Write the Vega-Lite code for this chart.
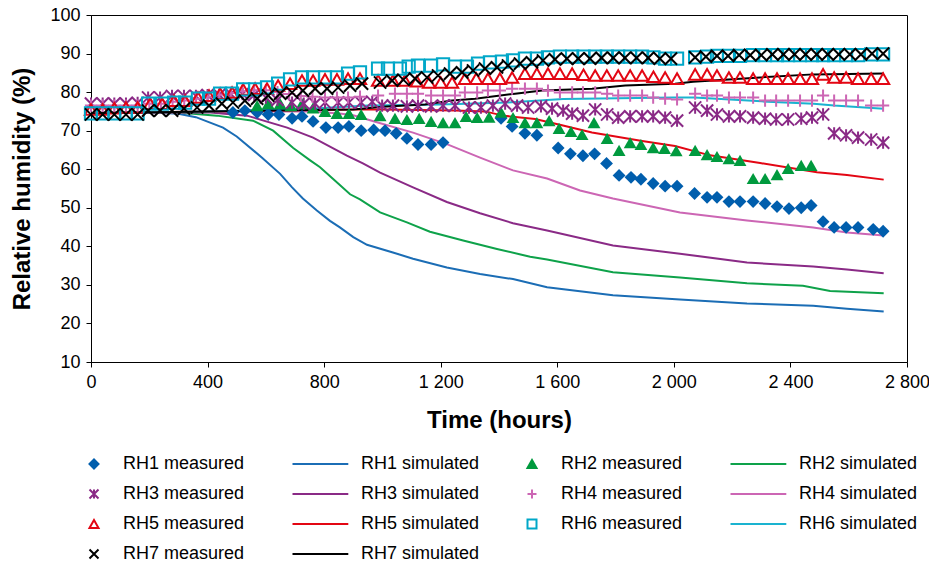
{
  "$schema": "https://vega.github.io/schema/vega-lite/v6.json",
  "width": 816,
  "height": 347,
  "autosize": {"type": "none"},
  "padding": {"left": 91, "top": 15, "right": 22, "bottom": 208},
  "background": "white",
  "config": {
    "font": "Liberation Sans",
    "view": {"stroke": "#000", "strokeWidth": 1},
    "axis": {"grid": false, "domainColor": "#000", "tickColor": "#000", "labelColor": "#000", "titleColor": "#000", "labelFont": "Liberation Sans", "titleFont": "Liberation Sans", "labelFontSize": 18, "titleFontSize": 24, "titleFontWeight": "bold", "tickSize": 5, "labelOverlap": false, "labelFlush": false}
  },
  "datasets": {
    "sim": [
      {"s":"RH1 simulated","h":0,"v":74.6},{"s":"RH1 simulated","h":200,"v":74.8},{"s":"RH1 simulated","h":300,"v":74.4},{"s":"RH1 simulated","h":360,"v":73.5},{"s":"RH1 simulated","h":453,"v":70.8},{"s":"RH1 simulated","h":500,"v":68.5},{"s":"RH1 simulated","h":587,"v":63.0},{"s":"RH1 simulated","h":649,"v":58.8},{"s":"RH1 simulated","h":690,"v":55.3},{"s":"RH1 simulated","h":727,"v":52.4},{"s":"RH1 simulated","h":775,"v":49.3},{"s":"RH1 simulated","h":820,"v":46.6},{"s":"RH1 simulated","h":854,"v":44.9},{"s":"RH1 simulated","h":900,"v":42.4},{"s":"RH1 simulated","h":947,"v":40.4},{"s":"RH1 simulated","h":1036,"v":38.4},{"s":"RH1 simulated","h":1105,"v":36.8},{"s":"RH1 simulated","h":1221,"v":34.5},{"s":"RH1 simulated","h":1335,"v":32.8},{"s":"RH1 simulated","h":1448,"v":31.5},{"s":"RH1 simulated","h":1565,"v":29.4},{"s":"RH1 simulated","h":1791,"v":27.3},{"s":"RH1 simulated","h":2021,"v":26.2},{"s":"RH1 simulated","h":2251,"v":25.2},{"s":"RH1 simulated","h":2478,"v":24.6},{"s":"RH1 simulated","h":2594,"v":23.8},{"s":"RH1 simulated","h":2720,"v":23.1},
      {"s":"RH2 simulated","h":0,"v":74.6},{"s":"RH2 simulated","h":300,"v":74.7},{"s":"RH2 simulated","h":432,"v":73.9},{"s":"RH2 simulated","h":556,"v":72.6},{"s":"RH2 simulated","h":625,"v":70.0},{"s":"RH2 simulated","h":694,"v":65.5},{"s":"RH2 simulated","h":752,"v":62.3},{"s":"RH2 simulated","h":786,"v":60.5},{"s":"RH2 simulated","h":830,"v":57.5},{"s":"RH2 simulated","h":889,"v":53.5},{"s":"RH2 simulated","h":923,"v":52.2},{"s":"RH2 simulated","h":992,"v":48.8},{"s":"RH2 simulated","h":1084,"v":46.2},{"s":"RH2 simulated","h":1163,"v":43.8},{"s":"RH2 simulated","h":1277,"v":41.5},{"s":"RH2 simulated","h":1393,"v":39.3},{"s":"RH2 simulated","h":1507,"v":37.3},{"s":"RH2 simulated","h":1565,"v":36.6},{"s":"RH2 simulated","h":1791,"v":33.3},{"s":"RH2 simulated","h":2021,"v":31.9},{"s":"RH2 simulated","h":2251,"v":30.4},{"s":"RH2 simulated","h":2443,"v":29.8},{"s":"RH2 simulated","h":2536,"v":28.4},{"s":"RH2 simulated","h":2720,"v":27.8},
      {"s":"RH3 simulated","h":0,"v":74.6},{"s":"RH3 simulated","h":400,"v":74.8},{"s":"RH3 simulated","h":535,"v":73.9},{"s":"RH3 simulated","h":673,"v":70.8},{"s":"RH3 simulated","h":762,"v":68.2},{"s":"RH3 simulated","h":878,"v":63.5},{"s":"RH3 simulated","h":933,"v":61.5},{"s":"RH3 simulated","h":992,"v":59.1},{"s":"RH3 simulated","h":1105,"v":55.3},{"s":"RH3 simulated","h":1221,"v":51.5},{"s":"RH3 simulated","h":1335,"v":48.6},{"s":"RH3 simulated","h":1448,"v":46.0},{"s":"RH3 simulated","h":1565,"v":44.1},{"s":"RH3 simulated","h":1791,"v":40.2},{"s":"RH3 simulated","h":2021,"v":38.1},{"s":"RH3 simulated","h":2251,"v":35.8},{"s":"RH3 simulated","h":2478,"v":34.8},{"s":"RH3 simulated","h":2594,"v":34.0},{"s":"RH3 simulated","h":2720,"v":33.0},
      {"s":"RH4 simulated","h":0,"v":74.6},{"s":"RH4 simulated","h":600,"v":75.0},{"s":"RH4 simulated","h":762,"v":75.0},{"s":"RH4 simulated","h":860,"v":74.4},{"s":"RH4 simulated","h":900,"v":74.0},{"s":"RH4 simulated","h":975,"v":72.3},{"s":"RH4 simulated","h":1105,"v":69.5},{"s":"RH4 simulated","h":1221,"v":66.5},{"s":"RH4 simulated","h":1335,"v":63.0},{"s":"RH4 simulated","h":1448,"v":59.7},{"s":"RH4 simulated","h":1565,"v":57.6},{"s":"RH4 simulated","h":1678,"v":54.5},{"s":"RH4 simulated","h":1791,"v":52.4},{"s":"RH4 simulated","h":2021,"v":48.8},{"s":"RH4 simulated","h":2251,"v":46.7},{"s":"RH4 simulated","h":2478,"v":44.9},{"s":"RH4 simulated","h":2594,"v":43.6},{"s":"RH4 simulated","h":2720,"v":42.8},
      {"s":"RH5 simulated","h":0,"v":74.6},{"s":"RH5 simulated","h":400,"v":75.0},{"s":"RH5 simulated","h":900,"v":75.5},{"s":"RH5 simulated","h":1000,"v":75.5},{"s":"RH5 simulated","h":1250,"v":75.2},{"s":"RH5 simulated","h":1352,"v":75.0},{"s":"RH5 simulated","h":1414,"v":73.9},{"s":"RH5 simulated","h":1524,"v":73.0},{"s":"RH5 simulated","h":1616,"v":71.4},{"s":"RH5 simulated","h":1719,"v":69.5},{"s":"RH5 simulated","h":1891,"v":67.3},{"s":"RH5 simulated","h":2004,"v":66.0},{"s":"RH5 simulated","h":2124,"v":63.6},{"s":"RH5 simulated","h":2296,"v":61.6},{"s":"RH5 simulated","h":2491,"v":59.2},{"s":"RH5 simulated","h":2594,"v":58.5},{"s":"RH5 simulated","h":2720,"v":57.3},
      {"s":"RH6 simulated","h":0,"v":74.5},{"s":"RH6 simulated","h":400,"v":75.0},{"s":"RH6 simulated","h":700,"v":75.5},{"s":"RH6 simulated","h":950,"v":76.5},{"s":"RH6 simulated","h":1200,"v":76.8},{"s":"RH6 simulated","h":1430,"v":77.3},{"s":"RH6 simulated","h":1620,"v":78.2},{"s":"RH6 simulated","h":2000,"v":78.6},{"s":"RH6 simulated","h":2070,"v":78.6},{"s":"RH6 simulated","h":2300,"v":77.6},{"s":"RH6 simulated","h":2480,"v":77.0},{"s":"RH6 simulated","h":2550,"v":76.5},{"s":"RH6 simulated","h":2720,"v":75.7},
      {"s":"RH7 simulated","h":0,"v":74.5},{"s":"RH7 simulated","h":400,"v":75.0},{"s":"RH7 simulated","h":900,"v":75.5},{"s":"RH7 simulated","h":1000,"v":76.2},{"s":"RH7 simulated","h":1146,"v":76.8},{"s":"RH7 simulated","h":1239,"v":77.8},{"s":"RH7 simulated","h":1318,"v":78.3},{"s":"RH7 simulated","h":1455,"v":79.6},{"s":"RH7 simulated","h":1548,"v":80.4},{"s":"RH7 simulated","h":1719,"v":80.9},{"s":"RH7 simulated","h":1833,"v":81.7},{"s":"RH7 simulated","h":2004,"v":82.2},{"s":"RH7 simulated","h":2066,"v":82.7},{"s":"RH7 simulated","h":2296,"v":83.8},{"s":"RH7 simulated","h":2478,"v":84.6},{"s":"RH7 simulated","h":2720,"v":84.8}
    ],
    "mf": [
      {"s":"RH1 measured","h":487,"v":74.7},{"s":"RH1 measured","h":528,"v":75.2},{"s":"RH1 measured","h":570,"v":74.7},{"s":"RH1 measured","h":608,"v":74.2},{"s":"RH1 measured","h":645,"v":74.2},{"s":"RH1 measured","h":690,"v":73.2},{"s":"RH1 measured","h":724,"v":73.7},{"s":"RH1 measured","h":762,"v":72.4},{"s":"RH1 measured","h":806,"v":70.8},{"s":"RH1 measured","h":848,"v":70.8},{"s":"RH1 measured","h":885,"v":71.1},{"s":"RH1 measured","h":927,"v":70.0},{"s":"RH1 measured","h":970,"v":70.2},{"s":"RH1 measured","h":1009,"v":70.0},{"s":"RH1 measured","h":1047,"v":69.3},{"s":"RH1 measured","h":1084,"v":68.0},{"s":"RH1 measured","h":1122,"v":66.4},{"s":"RH1 measured","h":1167,"v":66.4},{"s":"RH1 measured","h":1208,"v":66.9},{"s":"RH1 measured","h":1407,"v":73.2},{"s":"RH1 measured","h":1445,"v":71.1},{"s":"RH1 measured","h":1489,"v":69.3},{"s":"RH1 measured","h":1530,"v":68.8},{"s":"RH1 measured","h":1603,"v":65.5},{"s":"RH1 measured","h":1645,"v":64.0},{"s":"RH1 measured","h":1688,"v":63.5},{"s":"RH1 measured","h":1728,"v":64.0},{"s":"RH1 measured","h":1769,"v":61.5},{"s":"RH1 measured","h":1812,"v":58.4},{"s":"RH1 measured","h":1853,"v":57.9},{"s":"RH1 measured","h":1887,"v":57.4},{"s":"RH1 measured","h":1929,"v":56.3},{"s":"RH1 measured","h":1970,"v":55.6},{"s":"RH1 measured","h":2011,"v":55.6},{"s":"RH1 measured","h":2071,"v":53.7},{"s":"RH1 measured","h":2114,"v":52.7},{"s":"RH1 measured","h":2148,"v":52.7},{"s":"RH1 measured","h":2189,"v":51.6},{"s":"RH1 measured","h":2227,"v":51.6},{"s":"RH1 measured","h":2272,"v":51.6},{"s":"RH1 measured","h":2313,"v":51.1},{"s":"RH1 measured","h":2354,"v":50.3},{"s":"RH1 measured","h":2395,"v":49.8},{"s":"RH1 measured","h":2437,"v":50.0},{"s":"RH1 measured","h":2471,"v":50.6},{"s":"RH1 measured","h":2512,"v":46.4},{"s":"RH1 measured","h":2550,"v":44.9},{"s":"RH1 measured","h":2591,"v":44.9},{"s":"RH1 measured","h":2632,"v":44.9},{"s":"RH1 measured","h":2684,"v":44.4},{"s":"RH1 measured","h":2718,"v":43.9},
      {"s":"RH2 measured","h":570,"v":76.5},{"s":"RH2 measured","h":608,"v":77.0},{"s":"RH2 measured","h":649,"v":77.0},{"s":"RH2 measured","h":686,"v":76.5},{"s":"RH2 measured","h":724,"v":77.0},{"s":"RH2 measured","h":762,"v":75.9},{"s":"RH2 measured","h":803,"v":75.0},{"s":"RH2 measured","h":844,"v":74.5},{"s":"RH2 measured","h":885,"v":74.5},{"s":"RH2 measured","h":927,"v":74.2},{"s":"RH2 measured","h":992,"v":73.9},{"s":"RH2 measured","h":1043,"v":73.2},{"s":"RH2 measured","h":1084,"v":72.9},{"s":"RH2 measured","h":1126,"v":73.2},{"s":"RH2 measured","h":1167,"v":72.4},{"s":"RH2 measured","h":1208,"v":72.1},{"s":"RH2 measured","h":1249,"v":72.1},{"s":"RH2 measured","h":1287,"v":73.7},{"s":"RH2 measured","h":1325,"v":73.4},{"s":"RH2 measured","h":1366,"v":73.5},{"s":"RH2 measured","h":1407,"v":74.8},{"s":"RH2 measured","h":1448,"v":73.4},{"s":"RH2 measured","h":1489,"v":72.1},{"s":"RH2 measured","h":1530,"v":72.1},{"s":"RH2 measured","h":1572,"v":72.6},{"s":"RH2 measured","h":1606,"v":70.6},{"s":"RH2 measured","h":1647,"v":69.8},{"s":"RH2 measured","h":1685,"v":69.0},{"s":"RH2 measured","h":1726,"v":72.1},{"s":"RH2 measured","h":1771,"v":68.0},{"s":"RH2 measured","h":1812,"v":64.9},{"s":"RH2 measured","h":1850,"v":66.9},{"s":"RH2 measured","h":1887,"v":66.4},{"s":"RH2 measured","h":1929,"v":65.6},{"s":"RH2 measured","h":1968,"v":65.4},{"s":"RH2 measured","h":2008,"v":64.8},{"s":"RH2 measured","h":2073,"v":64.9},{"s":"RH2 measured","h":2114,"v":63.8},{"s":"RH2 measured","h":2148,"v":63.3},{"s":"RH2 measured","h":2189,"v":62.7},{"s":"RH2 measured","h":2227,"v":62.3},{"s":"RH2 measured","h":2272,"v":57.6},{"s":"RH2 measured","h":2313,"v":57.6},{"s":"RH2 measured","h":2354,"v":58.6},{"s":"RH2 measured","h":2392,"v":60.2},{"s":"RH2 measured","h":2437,"v":61.0},{"s":"RH2 measured","h":2471,"v":61.0}
    ],
    "mu": [
      {"s":"RH3 measured","h":0,"v":77.0},{"s":"RH3 measured","h":40,"v":77.0},{"s":"RH3 measured","h":80,"v":77.0},{"s":"RH3 measured","h":120,"v":77.0},{"s":"RH3 measured","h":160,"v":77.2},{"s":"RH3 measured","h":196,"v":78.6},{"s":"RH3 measured","h":237,"v":78.6},{"s":"RH3 measured","h":278,"v":79.0},{"s":"RH3 measured","h":319,"v":79.0},{"s":"RH3 measured","h":360,"v":79.0},{"s":"RH3 measured","h":400,"v":79.2},{"s":"RH3 measured","h":440,"v":79.3},{"s":"RH3 measured","h":480,"v":79.5},{"s":"RH3 measured","h":520,"v":79.5},{"s":"RH3 measured","h":560,"v":79.3},{"s":"RH3 measured","h":600,"v":78.6},{"s":"RH3 measured","h":640,"v":78.0},{"s":"RH3 measured","h":690,"v":77.3},{"s":"RH3 measured","h":730,"v":77.0},{"s":"RH3 measured","h":769,"v":77.0},{"s":"RH3 measured","h":803,"v":77.3},{"s":"RH3 measured","h":848,"v":77.3},{"s":"RH3 measured","h":885,"v":77.3},{"s":"RH3 measured","h":927,"v":77.3},{"s":"RH3 measured","h":965,"v":77.5},{"s":"RH3 measured","h":999,"v":76.5},{"s":"RH3 measured","h":1036,"v":76.5},{"s":"RH3 measured","h":1084,"v":76.3},{"s":"RH3 measured","h":1122,"v":76.5},{"s":"RH3 measured","h":1167,"v":76.3},{"s":"RH3 measured","h":1208,"v":76.5},{"s":"RH3 measured","h":1249,"v":76.5},{"s":"RH3 measured","h":1297,"v":76.0},{"s":"RH3 measured","h":1338,"v":76.0},{"s":"RH3 measured","h":1379,"v":76.5},{"s":"RH3 measured","h":1421,"v":77.0},{"s":"RH3 measured","h":1462,"v":76.5},{"s":"RH3 measured","h":1500,"v":76.0},{"s":"RH3 measured","h":1544,"v":76.3},{"s":"RH3 measured","h":1582,"v":75.7},{"s":"RH3 measured","h":1620,"v":75.2},{"s":"RH3 measured","h":1651,"v":74.4},{"s":"RH3 measured","h":1688,"v":73.9},{"s":"RH3 measured","h":1730,"v":75.5},{"s":"RH3 measured","h":1771,"v":74.2},{"s":"RH3 measured","h":1809,"v":73.4},{"s":"RH3 measured","h":1850,"v":73.7},{"s":"RH3 measured","h":1891,"v":73.7},{"s":"RH3 measured","h":1929,"v":73.7},{"s":"RH3 measured","h":1970,"v":73.4},{"s":"RH3 measured","h":2011,"v":72.6},{"s":"RH3 measured","h":2073,"v":76.0},{"s":"RH3 measured","h":2114,"v":75.2},{"s":"RH3 measured","h":2148,"v":74.2},{"s":"RH3 measured","h":2189,"v":73.7},{"s":"RH3 measured","h":2227,"v":73.7},{"s":"RH3 measured","h":2272,"v":73.4},{"s":"RH3 measured","h":2313,"v":73.1},{"s":"RH3 measured","h":2351,"v":72.9},{"s":"RH3 measured","h":2392,"v":72.9},{"s":"RH3 measured","h":2437,"v":73.1},{"s":"RH3 measured","h":2474,"v":73.4},{"s":"RH3 measured","h":2512,"v":74.2},{"s":"RH3 measured","h":2550,"v":69.3},{"s":"RH3 measured","h":2591,"v":68.8},{"s":"RH3 measured","h":2632,"v":68.2},{"s":"RH3 measured","h":2677,"v":67.7},{"s":"RH3 measured","h":2718,"v":66.9},
      {"s":"RH4 measured","h":0,"v":76.5},{"s":"RH4 measured","h":40,"v":76.5},{"s":"RH4 measured","h":80,"v":76.5},{"s":"RH4 measured","h":120,"v":76.5},{"s":"RH4 measured","h":160,"v":76.5},{"s":"RH4 measured","h":200,"v":77.0},{"s":"RH4 measured","h":240,"v":77.0},{"s":"RH4 measured","h":280,"v":77.5},{"s":"RH4 measured","h":320,"v":77.8},{"s":"RH4 measured","h":360,"v":78.3},{"s":"RH4 measured","h":400,"v":78.8},{"s":"RH4 measured","h":440,"v":79.3},{"s":"RH4 measured","h":480,"v":79.8},{"s":"RH4 measured","h":520,"v":80.2},{"s":"RH4 measured","h":560,"v":80.5},{"s":"RH4 measured","h":600,"v":80.5},{"s":"RH4 measured","h":640,"v":80.0},{"s":"RH4 measured","h":680,"v":79.5},{"s":"RH4 measured","h":720,"v":79.0},{"s":"RH4 measured","h":760,"v":78.8},{"s":"RH4 measured","h":803,"v":78.6},{"s":"RH4 measured","h":844,"v":78.6},{"s":"RH4 measured","h":882,"v":78.6},{"s":"RH4 measured","h":923,"v":78.8},{"s":"RH4 measured","h":985,"v":79.1},{"s":"RH4 measured","h":1043,"v":79.6},{"s":"RH4 measured","h":1084,"v":79.6},{"s":"RH4 measured","h":1122,"v":79.6},{"s":"RH4 measured","h":1167,"v":79.1},{"s":"RH4 measured","h":1208,"v":79.1},{"s":"RH4 measured","h":1249,"v":79.1},{"s":"RH4 measured","h":1283,"v":79.9},{"s":"RH4 measured","h":1325,"v":79.9},{"s":"RH4 measured","h":1362,"v":80.4},{"s":"RH4 measured","h":1403,"v":80.4},{"s":"RH4 measured","h":1445,"v":80.9},{"s":"RH4 measured","h":1489,"v":80.9},{"s":"RH4 measured","h":1530,"v":80.9},{"s":"RH4 measured","h":1568,"v":80.4},{"s":"RH4 measured","h":1609,"v":79.9},{"s":"RH4 measured","h":1651,"v":79.9},{"s":"RH4 measured","h":1688,"v":79.9},{"s":"RH4 measured","h":1730,"v":79.9},{"s":"RH4 measured","h":1771,"v":79.6},{"s":"RH4 measured","h":1809,"v":79.1},{"s":"RH4 measured","h":1850,"v":79.1},{"s":"RH4 measured","h":1891,"v":79.1},{"s":"RH4 measured","h":1929,"v":78.6},{"s":"RH4 measured","h":1970,"v":78.3},{"s":"RH4 measured","h":2011,"v":78.1},{"s":"RH4 measured","h":2073,"v":79.6},{"s":"RH4 measured","h":2114,"v":79.1},{"s":"RH4 measured","h":2148,"v":79.1},{"s":"RH4 measured","h":2189,"v":78.6},{"s":"RH4 measured","h":2227,"v":78.6},{"s":"RH4 measured","h":2272,"v":78.6},{"s":"RH4 measured","h":2313,"v":77.8},{"s":"RH4 measured","h":2351,"v":77.8},{"s":"RH4 measured","h":2392,"v":77.8},{"s":"RH4 measured","h":2433,"v":77.8},{"s":"RH4 measured","h":2474,"v":77.8},{"s":"RH4 measured","h":2512,"v":79.1},{"s":"RH4 measured","h":2550,"v":77.8},{"s":"RH4 measured","h":2591,"v":77.8},{"s":"RH4 measured","h":2632,"v":77.8},{"s":"RH4 measured","h":2677,"v":76.5},{"s":"RH4 measured","h":2718,"v":76.5},
      {"s":"RH5 measured","h":0,"v":75.5},{"s":"RH5 measured","h":40,"v":75.5},{"s":"RH5 measured","h":80,"v":75.8},{"s":"RH5 measured","h":120,"v":76.0},{"s":"RH5 measured","h":160,"v":76.0},{"s":"RH5 measured","h":203,"v":77.0},{"s":"RH5 measured","h":244,"v":77.0},{"s":"RH5 measured","h":285,"v":77.8},{"s":"RH5 measured","h":323,"v":77.8},{"s":"RH5 measured","h":367,"v":78.6},{"s":"RH5 measured","h":405,"v":79.1},{"s":"RH5 measured","h":443,"v":79.6},{"s":"RH5 measured","h":484,"v":79.9},{"s":"RH5 measured","h":522,"v":80.7},{"s":"RH5 measured","h":563,"v":80.9},{"s":"RH5 measured","h":604,"v":80.9},{"s":"RH5 measured","h":642,"v":81.7},{"s":"RH5 measured","h":683,"v":82.2},{"s":"RH5 measured","h":724,"v":83.0},{"s":"RH5 measured","h":762,"v":83.0},{"s":"RH5 measured","h":803,"v":83.3},{"s":"RH5 measured","h":844,"v":83.3},{"s":"RH5 measured","h":882,"v":83.5},{"s":"RH5 measured","h":923,"v":83.5},{"s":"RH5 measured","h":985,"v":83.0},{"s":"RH5 measured","h":1036,"v":83.0},{"s":"RH5 measured","h":1077,"v":83.0},{"s":"RH5 measured","h":1118,"v":82.8},{"s":"RH5 measured","h":1160,"v":82.5},{"s":"RH5 measured","h":1200,"v":82.5},{"s":"RH5 measured","h":1239,"v":82.5},{"s":"RH5 measured","h":1283,"v":83.5},{"s":"RH5 measured","h":1322,"v":83.5},{"s":"RH5 measured","h":1362,"v":83.5},{"s":"RH5 measured","h":1403,"v":83.5},{"s":"RH5 measured","h":1445,"v":83.8},{"s":"RH5 measured","h":1489,"v":84.8},{"s":"RH5 measured","h":1530,"v":84.8},{"s":"RH5 measured","h":1568,"v":84.8},{"s":"RH5 measured","h":1609,"v":84.8},{"s":"RH5 measured","h":1651,"v":84.8},{"s":"RH5 measured","h":1690,"v":84.5},{"s":"RH5 measured","h":1730,"v":84.3},{"s":"RH5 measured","h":1770,"v":84.3},{"s":"RH5 measured","h":1809,"v":84.3},{"s":"RH5 measured","h":1850,"v":84.3},{"s":"RH5 measured","h":1891,"v":84.3},{"s":"RH5 measured","h":1930,"v":84.0},{"s":"RH5 measured","h":1970,"v":83.8},{"s":"RH5 measured","h":2011,"v":83.5},{"s":"RH5 measured","h":2073,"v":84.6},{"s":"RH5 measured","h":2114,"v":84.6},{"s":"RH5 measured","h":2148,"v":84.3},{"s":"RH5 measured","h":2189,"v":83.8},{"s":"RH5 measured","h":2227,"v":83.8},{"s":"RH5 measured","h":2272,"v":83.5},{"s":"RH5 measured","h":2313,"v":83.5},{"s":"RH5 measured","h":2354,"v":83.5},{"s":"RH5 measured","h":2392,"v":83.5},{"s":"RH5 measured","h":2433,"v":83.5},{"s":"RH5 measured","h":2474,"v":83.5},{"s":"RH5 measured","h":2512,"v":84.6},{"s":"RH5 measured","h":2550,"v":83.8},{"s":"RH5 measured","h":2591,"v":83.8},{"s":"RH5 measured","h":2632,"v":83.5},{"s":"RH5 measured","h":2677,"v":83.5},{"s":"RH5 measured","h":2718,"v":83.5},
      {"s":"RH6 measured","h":0,"v":74.5},{"s":"RH6 measured","h":40,"v":74.5},{"s":"RH6 measured","h":80,"v":74.5},{"s":"RH6 measured","h":120,"v":74.5},{"s":"RH6 measured","h":160,"v":74.5},{"s":"RH6 measured","h":196,"v":77.0},{"s":"RH6 measured","h":244,"v":77.0},{"s":"RH6 measured","h":285,"v":77.3},{"s":"RH6 measured","h":323,"v":77.3},{"s":"RH6 measured","h":367,"v":78.3},{"s":"RH6 measured","h":405,"v":78.3},{"s":"RH6 measured","h":443,"v":79.6},{"s":"RH6 measured","h":484,"v":79.6},{"s":"RH6 measured","h":522,"v":80.7},{"s":"RH6 measured","h":563,"v":80.7},{"s":"RH6 measured","h":604,"v":81.2},{"s":"RH6 measured","h":642,"v":82.2},{"s":"RH6 measured","h":683,"v":83.3},{"s":"RH6 measured","h":724,"v":83.8},{"s":"RH6 measured","h":762,"v":83.8},{"s":"RH6 measured","h":803,"v":83.8},{"s":"RH6 measured","h":844,"v":83.8},{"s":"RH6 measured","h":882,"v":84.8},{"s":"RH6 measured","h":923,"v":85.1},{"s":"RH6 measured","h":985,"v":86.1},{"s":"RH6 measured","h":1019,"v":86.1},{"s":"RH6 measured","h":1060,"v":86.1},{"s":"RH6 measured","h":1090,"v":86.6},{"s":"RH6 measured","h":1122,"v":86.9},{"s":"RH6 measured","h":1167,"v":86.9},{"s":"RH6 measured","h":1208,"v":87.2},{"s":"RH6 measured","h":1249,"v":86.6},{"s":"RH6 measured","h":1290,"v":86.6},{"s":"RH6 measured","h":1328,"v":87.4},{"s":"RH6 measured","h":1369,"v":87.7},{"s":"RH6 measured","h":1410,"v":87.9},{"s":"RH6 measured","h":1448,"v":88.2},{"s":"RH6 measured","h":1489,"v":88.7},{"s":"RH6 measured","h":1530,"v":88.7},{"s":"RH6 measured","h":1568,"v":89.0},{"s":"RH6 measured","h":1609,"v":89.2},{"s":"RH6 measured","h":1651,"v":89.2},{"s":"RH6 measured","h":1690,"v":89.2},{"s":"RH6 measured","h":1730,"v":89.2},{"s":"RH6 measured","h":1770,"v":89.2},{"s":"RH6 measured","h":1809,"v":89.2},{"s":"RH6 measured","h":1850,"v":89.2},{"s":"RH6 measured","h":1891,"v":89.2},{"s":"RH6 measured","h":1930,"v":89.0},{"s":"RH6 measured","h":1970,"v":88.7},{"s":"RH6 measured","h":2011,"v":88.7},{"s":"RH6 measured","h":2073,"v":89.0},{"s":"RH6 measured","h":2114,"v":89.2},{"s":"RH6 measured","h":2148,"v":89.4},{"s":"RH6 measured","h":2189,"v":89.4},{"s":"RH6 measured","h":2227,"v":89.4},{"s":"RH6 measured","h":2272,"v":89.6},{"s":"RH6 measured","h":2313,"v":89.6},{"s":"RH6 measured","h":2354,"v":89.6},{"s":"RH6 measured","h":2392,"v":89.6},{"s":"RH6 measured","h":2433,"v":89.6},{"s":"RH6 measured","h":2474,"v":89.6},{"s":"RH6 measured","h":2512,"v":89.6},{"s":"RH6 measured","h":2550,"v":89.6},{"s":"RH6 measured","h":2591,"v":89.6},{"s":"RH6 measured","h":2632,"v":89.6},{"s":"RH6 measured","h":2677,"v":89.8},{"s":"RH6 measured","h":2718,"v":89.8},
      {"s":"RH7 measured","h":0,"v":74.2},{"s":"RH7 measured","h":40,"v":74.2},{"s":"RH7 measured","h":80,"v":74.2},{"s":"RH7 measured","h":120,"v":74.2},{"s":"RH7 measured","h":160,"v":74.2},{"s":"RH7 measured","h":196,"v":75.2},{"s":"RH7 measured","h":237,"v":75.2},{"s":"RH7 measured","h":278,"v":75.2},{"s":"RH7 measured","h":319,"v":75.7},{"s":"RH7 measured","h":364,"v":76.0},{"s":"RH7 measured","h":405,"v":76.5},{"s":"RH7 measured","h":449,"v":77.0},{"s":"RH7 measured","h":487,"v":77.3},{"s":"RH7 measured","h":528,"v":77.8},{"s":"RH7 measured","h":570,"v":78.3},{"s":"RH7 measured","h":608,"v":79.1},{"s":"RH7 measured","h":649,"v":79.6},{"s":"RH7 measured","h":690,"v":79.9},{"s":"RH7 measured","h":727,"v":80.4},{"s":"RH7 measured","h":769,"v":80.9},{"s":"RH7 measured","h":810,"v":80.9},{"s":"RH7 measured","h":848,"v":81.2},{"s":"RH7 measured","h":889,"v":81.7},{"s":"RH7 measured","h":930,"v":82.2},{"s":"RH7 measured","h":992,"v":82.5},{"s":"RH7 measured","h":1033,"v":83.0},{"s":"RH7 measured","h":1072,"v":83.2},{"s":"RH7 measured","h":1112,"v":83.5},{"s":"RH7 measured","h":1153,"v":83.8},{"s":"RH7 measured","h":1191,"v":84.3},{"s":"RH7 measured","h":1232,"v":84.8},{"s":"RH7 measured","h":1273,"v":85.1},{"s":"RH7 measured","h":1311,"v":85.6},{"s":"RH7 measured","h":1352,"v":86.1},{"s":"RH7 measured","h":1393,"v":86.4},{"s":"RH7 measured","h":1431,"v":86.9},{"s":"RH7 measured","h":1472,"v":87.4},{"s":"RH7 measured","h":1513,"v":87.7},{"s":"RH7 measured","h":1551,"v":88.2},{"s":"RH7 measured","h":1592,"v":88.5},{"s":"RH7 measured","h":1633,"v":88.7},{"s":"RH7 measured","h":1672,"v":88.7},{"s":"RH7 measured","h":1712,"v":88.7},{"s":"RH7 measured","h":1752,"v":88.9},{"s":"RH7 measured","h":1792,"v":88.9},{"s":"RH7 measured","h":1832,"v":88.9},{"s":"RH7 measured","h":1872,"v":88.9},{"s":"RH7 measured","h":1912,"v":88.9},{"s":"RH7 measured","h":1952,"v":88.7},{"s":"RH7 measured","h":1990,"v":88.7},{"s":"RH7 measured","h":2073,"v":89.0},{"s":"RH7 measured","h":2110,"v":89.2},{"s":"RH7 measured","h":2148,"v":89.4},{"s":"RH7 measured","h":2186,"v":89.4},{"s":"RH7 measured","h":2224,"v":89.6},{"s":"RH7 measured","h":2262,"v":89.6},{"s":"RH7 measured","h":2300,"v":89.6},{"s":"RH7 measured","h":2338,"v":89.8},{"s":"RH7 measured","h":2376,"v":89.8},{"s":"RH7 measured","h":2414,"v":89.8},{"s":"RH7 measured","h":2452,"v":89.8},{"s":"RH7 measured","h":2490,"v":89.8},{"s":"RH7 measured","h":2528,"v":89.8},{"s":"RH7 measured","h":2566,"v":89.8},{"s":"RH7 measured","h":2604,"v":89.8},{"s":"RH7 measured","h":2642,"v":89.8},{"s":"RH7 measured","h":2680,"v":90.0},{"s":"RH7 measured","h":2718,"v":90.0}
    ]
  },
  "encoding": {
    "x": {"field": "h", "type": "quantitative", "scale": {"domain": [0, 2800], "nice": false, "zero": false},
      "axis": {"title": "Time (hours)", "values": [0, 400, 800, 1200, 1600, 2000, 2400, 2800], "labelExpr": "replace(format(datum.value, ','), ',', ' ')", "labelPadding": 6, "titlePadding": 17}},
    "y": {"field": "v", "type": "quantitative", "scale": {"domain": [10, 100], "nice": false, "zero": false},
      "axis": {"title": "Relative humidity (%)", "values": [10, 20, 30, 40, 50, 60, 70, 80, 90, 100], "labelPadding": 6, "titlePadding": 15}},
    "color": {"field": "s", "type": "nominal",
      "scale": {
        "domain": ["RH1 measured","RH1 simulated","RH2 measured","RH2 simulated","RH3 measured","RH3 simulated","RH4 measured","RH4 simulated","RH5 measured","RH5 simulated","RH6 measured","RH6 simulated","RH7 measured","RH7 simulated"],
        "range": ["#005EAD","#1B6DB5","#009A3E","#0EA24A","#8A2A86","#8A2A86","#CC66B4","#CC66B4","#E30613","#E30613","#00A7C8","#1AB3D0","#000000","#000000"]
      },
      "legend": {
        "title": null, "orient": "none", "legendX": -6, "legendY": 440, "columns": 4, "direction": "horizontal",
        "symbolSize": 81, "symbolStrokeWidth": 2, "labelFontSize": 18, "labelFont": "Liberation Sans", "labelColor": "#000",
        "labelOffset": 20, "columnPadding": 43, "rowPadding": 12, "padding": 0, "labelLimit": 300,
        "encode": {
          "symbols": {"update": {
            "shape": {"scale": "shape", "field": "value"},
            "stroke": {"scale": "color", "field": "value"},
            "fillOpacity": {"signal": "(datum.value === 'RH1 measured' || datum.value === 'RH2 measured') ? 1 : 0"},
            "strokeWidth": {"value": 2},
            "size": {"value": 81},
            "opacity": {"value": 1}
          }},
          "labels": {"update": {"dx": {"signal": "indexof(datum.value, 'simulated') >= 0 ? 35 : 0"}}}
        }
      }
    }
  },
  "layer": [
    {"data": {"name": "sim"}, "mark": {"type": "line", "strokeWidth": 2}},
    {"data": {"name": "mf"}, "mark": {"type": "point", "filled": true, "size": 165, "opacity": 1, "strokeWidth": 0},
      "encoding": {"shape": {"field": "s", "type": "nominal", "scale": {
        "domain": ["RH1 measured","RH1 simulated","RH2 measured","RH2 simulated","RH3 measured","RH3 simulated","RH4 measured","RH4 simulated","RH5 measured","RH5 simulated","RH6 measured","RH6 simulated","RH7 measured","RH7 simulated"],
        "range": ["diamond","M-1,0H11.4","triangle-up","M-1,0H11.4","M-1,-1L1,1M-1,1L1,-1M0,-1V1","M-1,0H11.4","M-1,0H1M0,-1V1","M-1,0H11.4","triangle-up","M-1,0H11.4","square","M-1,0H11.4","M-1,-1L1,1M-1,1L1,-1","M-1,0H11.4"]}}}},
    {"data": {"name": "mu"}, "mark": {"type": "point", "filled": false, "size": 150, "opacity": 1, "strokeWidth": 2},
      "encoding": {"shape": {"field": "s", "type": "nominal", "scale": {
        "domain": ["RH1 measured","RH1 simulated","RH2 measured","RH2 simulated","RH3 measured","RH3 simulated","RH4 measured","RH4 simulated","RH5 measured","RH5 simulated","RH6 measured","RH6 simulated","RH7 measured","RH7 simulated"],
        "range": ["diamond","M-1,0H11.4","triangle-up","M-1,0H11.4","M-1,-1L1,1M-1,1L1,-1M0,-1V1","M-1,0H11.4","M-1,0H1M0,-1V1","M-1,0H11.4","triangle-up","M-1,0H11.4","square","M-1,0H11.4","M-1,-1L1,1M-1,1L1,-1","M-1,0H11.4"]}}}}
  ]
}
